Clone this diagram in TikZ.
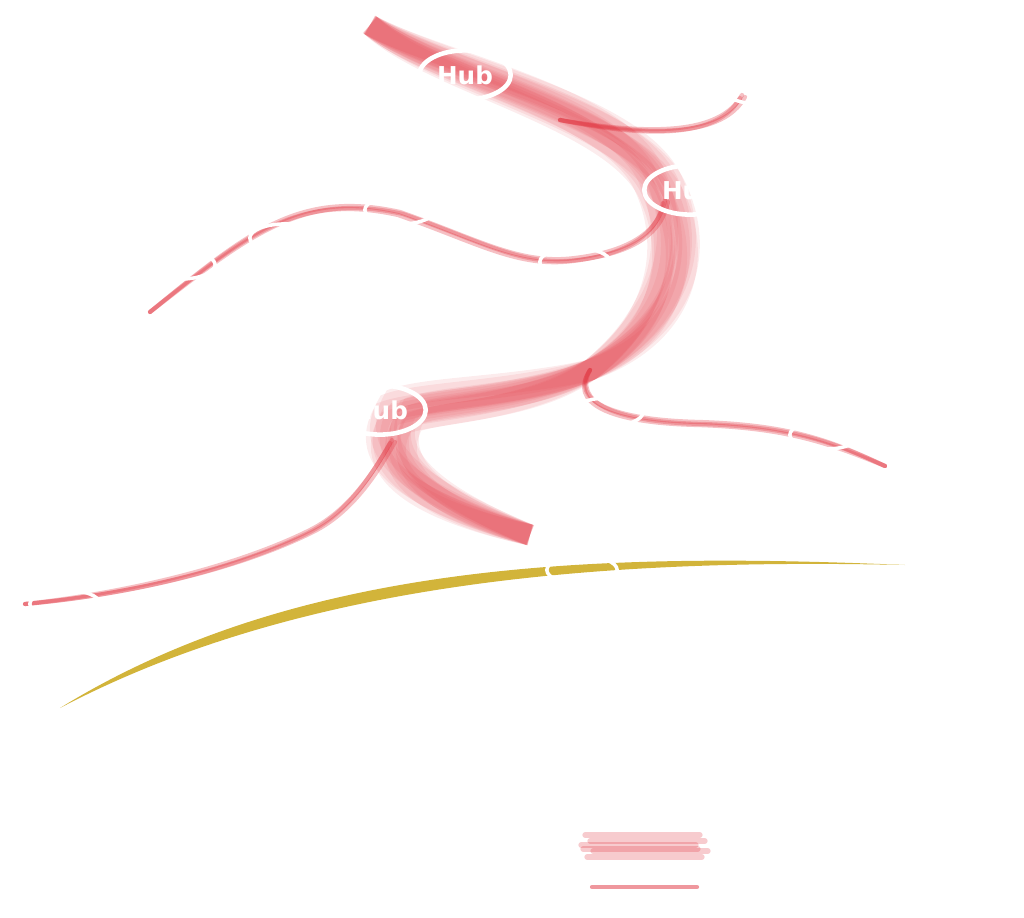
\documentclass[tikz,border=0pt]{standalone}
\usepackage{fontspec}
\setmainfont{DejaVu Sans}
\usetikzlibrary{shapes.geometric}
\definecolor{strand}{HTML}{E0303C}
\definecolor{gold}{HTML}{D2B43A}
\begin{document}
\begin{tikzpicture}[
    x = 0.01cm,
    y = -0.01cm,
    hub/.style = {ellipse, draw=white, line width=1.3pt, minimum width=26pt,
    minimum height=14pt, inner sep=0pt, text=white, font=\bfseries\fontsize{7}{8}\selectfont},
    ring/.style = {ellipse, draw=white, line width=1pt, minimum width=20pt,
    minimum height=8pt, inner sep=0pt},
    band/.style = {strand, opacity=0.09, line width=6pt, line cap=butt},
    thread/.style = {strand, opacity=0.3, line width=1.2pt, line cap=round},
]
\useasboundingbox (0,0) rectangle (1024,918);

% gold arc
\fill[gold] (60,708) .. controls (300,582) and (600,558) .. (905,565)
    .. controls (600,552) and (300,560) .. (60,708);

% anchor points
\coordinate (top) at (370,25);
\coordinate (bend) at (590,370);
\coordinate (tail) at (530,535);
\coordinate (w_end) at (150,312);
\coordinate (e_end) at (885,466);
\coordinate (sw_end) at (25,604);
\coordinate (ne_start) at (560,120);

% main band, drawn many times slightly shifted
\foreach \dx/\dy in {0/0, 8/5, -7/4, 14/-5, -10/-8, 5/12, 16/10, -4/-13, 10/-3, -9/9, 18/2, -14/0} {
    \draw[band, shift={(\dx,\dy)}] (top) .. controls (440,75) and (630,110) .. (660,190)
        .. controls (690,260) and (660,330) .. (bend)
        .. controls (520,400) and (430,400) .. (398,412)
        .. controls (370,460) and (420,500) .. (tail);
}
\foreach \dx/\dy in {0/0, 3/2, -2/3} {
    \draw[thread, shift={(\dx,\dy)}] (ne_start) .. controls (650,135) and (720,135) .. (742,95);
    \draw[thread, shift={(\dx,\dy)}] (w_end) .. controls (250,230) and (300,190) .. (400,212)
        .. controls (480,240) and (520,265) .. (575,258)
        .. controls (640,250) and (660,225) .. (665,200);
    \draw[thread, shift={(\dx,\dy)}] (bend) .. controls (570,400) and (610,420) .. (700,422)
        .. controls (790,425) and (830,440) .. (e_end);
    \draw[thread, shift={(\dx,\dy)}] (sw_end) .. controls (150,590) and (250,560) .. (310,530)
        .. controls (350,510) and (375,470) .. (392,440);
}

% bottom bars
\foreach \dx/\dy in {0/0, 5/6, -4/10, 8/16, 2/22, -2/14} {
    \draw[strand, opacity=0.25, line width=1.5pt, line cap=round, shift={(\dx,\dy)}]
        (585,835) -- (700,835);
}
\draw[strand, opacity=0.5, line width=1.2pt, line cap=round] (592,887) -- (697,887);

% rings
\node[hub] (hub_top) at (465,75) {Hub};
\node[hub] (hub_right) at (690,190) {Hub};
\node[hub] (hub_left) at (380,410) {Hub};
\node[ring] (r_1) at (180,265) {};
\node[ring] (r_2) at (285,238) {};
\node[ring] (r_3) at (400,210) {};
\node[ring] (r_4) at (575,262) {};
\node[ring] (r_5) at (608,412) {};
\node[ring] (r_6) at (825,435) {};
\node[ring] (r_7) at (65,604) {};
\node[ring] (r_8) at (582,570) {};
\node[ring] (r_9) at (760,90) {};
\end{tikzpicture}
\end{document}
